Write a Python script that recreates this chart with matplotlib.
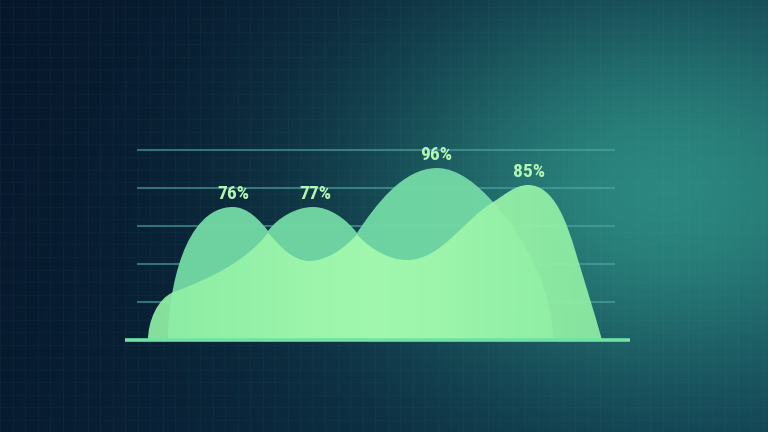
import numpy as np
import matplotlib
matplotlib.use("Agg")
import matplotlib.pyplot as plt
from matplotlib.path import Path
from matplotlib.patches import PathPatch

# chart units: x 0..100 along the baseline, y in percent
# key points of each area outline, with the slope of the outline on each side
# (None = vertical at the baseline)
back_x = [8.51, 21.39, 28.32, 37.23, 45.94, 61.78, 72.87, 84.75]
back_y = [0, 70.0, 57.4, 70.0, 56.3, 90.5, 72.6, 0]
back_slope_in = [None, 0, -3.5, 0, -3.5, 0, -3.0, None]
back_slope_out = [None, 0, 3.5, 0, 4.0, 0, -3.0, None]

front_x = [4.55, 9.70, 28.32, 36.43, 45.94, 55.84, 72.87, 79.80, 89.11, 94.46]
front_y = [0, 25.3, 56.5, 41.6, 55.6, 42.1, 72.6, 81.6, 47.4, 0]
front_slope_in = [None, 1.0, 3.5, 0, 3.0, 0, 1.6, 0, -8.8, -9.5]
front_slope_out = [None, 1.0, -3.0, 0, -3.0, 0, 1.6, 0, -8.8, -9.5]

labels = ["76%", "77%", "96%", "85%"]
label_x = [21.5, 37.7, 61.7, 80.0]
label_y = [70.0, 70.0, 90.5, 81.6]

grid_levels = [20, 40, 60, 80, 100]

SX, SY = 5.05, 1.9  # pixels per chart unit

fig = plt.figure(figsize=(7.68, 4.32), dpi=100)
ax = fig.add_axes([0, 0, 1, 1])
xlim = (-125 / SX, (768 - 125) / SX)
ylim = (-92 / SY, 340 / SY)
ax.set_xlim(*xlim)
ax.set_ylim(*ylim)
ax.axis("off")

# background: dark navy with a broad teal glow on the right
h, w = 432, 768
yy, xx = np.mgrid[0:h, 0:w]
d2 = ((xx - 665) / 300.0) ** 2 + ((yy - 190) / 210.0) ** 2
glow = np.exp(-d2)
dark = np.array([0.025, 0.09, 0.17])
mid = np.array([0.05, 0.20, 0.29])
teal = np.array([0.17, 0.53, 0.50])
t = np.clip((xx / w) * 0.75 + (yy / h) * 0.25, 0, 1) ** 1.3
base = dark + (mid - dark) * t[..., None]
img = base + (teal - base) * glow[..., None]
ax.imshow(img, extent=(xlim[0], xlim[1], ylim[0], ylim[1]), origin="upper",
          aspect="auto", zorder=0)

# faint background texture grid
for gx in np.arange(xlim[0], xlim[1], 12.5 / SX):
    ax.axvline(gx, color="#6cc4cc", alpha=0.045, lw=0.9, zorder=1)
for gy in np.arange(ylim[0], ylim[1], 12.5 / SY):
    ax.axhline(gy, color="#6cc4cc", alpha=0.035, lw=0.8, zorder=1)

# chart gridlines
for g in grid_levels:
    ax.plot([2.38, 97.0], [g, g], color="#4fa9a6", alpha=0.6, lw=1.5, zorder=2,
            solid_capstyle="butt")


def tangent(slope, dy_sign):
    # unit tangent in pixel space, pointing to increasing x
    if slope is None:
        return np.array([0.0, dy_sign])
    v = np.array([SX, SY * slope])
    return v / np.hypot(*v)


def smooth_path(xs, ys, s_in, s_out, k=0.33):
    verts = [(xs[0], ys[0])]
    codes = [Path.MOVETO]
    for i in range(len(xs) - 1):
        a = np.array([xs[i] * SX, ys[i] * SY])
        b = np.array([xs[i + 1] * SX, ys[i + 1] * SY])
        L = np.hypot(*(b - a))
        sgn = np.sign(b[1] - a[1])
        c1 = a + k * L * tangent(s_out[i], sgn)
        c2 = b - k * L * tangent(s_in[i + 1], sgn)
        for p in (c1, c2, b):
            verts.append((p[0] / SX, p[1] / SY))
        codes += [Path.CURVE4] * 3
    verts.append((xs[0], ys[0]))
    codes.append(Path.CLOSEPOLY)
    return Path(verts, codes)


back = PathPatch(smooth_path(back_x, back_y, back_slope_in, back_slope_out),
                 facecolor="#71d8a4", edgecolor="none", alpha=0.97, zorder=3)
ax.add_patch(back)

front = PathPatch(smooth_path(front_x, front_y, front_slope_in, front_slope_out),
                  facecolor="none", edgecolor="none", zorder=4)
ax.add_patch(front)
gx = np.linspace(0, 1, 256)
shade = np.exp(-((gx - 0.5) / 0.35) ** 2)
c_edge = np.array([0.55, 0.93, 0.64])
c_mid = np.array([0.64, 0.98, 0.68])
grad = c_edge + (c_mid - c_edge) * shade[:, None]
grad = np.repeat(grad[None, :, :], 8, axis=0)
gimg = ax.imshow(grad, extent=(4.55, 94.46, 0, 90), origin="lower", aspect="auto",
                 zorder=4, alpha=0.93)
gimg.set_clip_path(front)

# baseline
ax.plot([0, 100], [0, 0], color="#6fe3a4", lw=2.6, zorder=5, solid_capstyle="butt")

# peak labels
for t, lx, ly in zip(labels, label_x, label_y):
    ax.annotate(t, (lx, ly), xytext=(0, 6), textcoords="offset points",
                ha="center", va="baseline", color="#b3f5b3", fontsize=14,
                fontweight="bold", fontstretch="condensed",
                family=["Roboto Condensed", "Liberation Sans Narrow", "DejaVu Sans"],
                zorder=6)

fig.savefig("out.png", dpi=100)
